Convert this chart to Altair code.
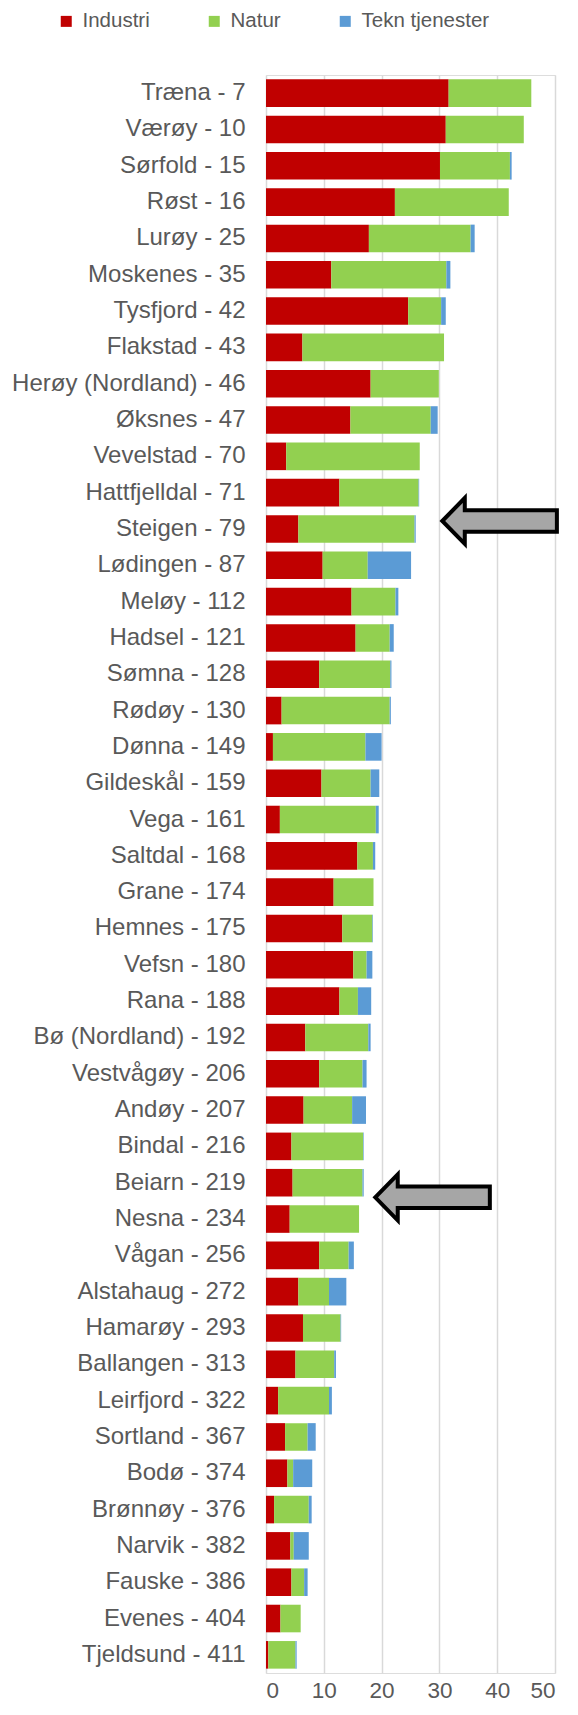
import altair as alt
import pandas as pd

kommuner = [
    "Træna - 7", "Værøy - 10", "Sørfold - 15", "Røst - 16", "Lurøy - 25",
    "Moskenes - 35", "Tysfjord - 42", "Flakstad - 43", "Herøy (Nordland) - 46",
    "Øksnes - 47", "Vevelstad - 70", "Hattfjelldal - 71", "Steigen - 79",
    "Lødingen - 87", "Meløy - 112", "Hadsel - 121", "Sømna - 128", "Rødøy - 130",
    "Dønna - 149", "Gildeskål - 159", "Vega - 161", "Saltdal - 168", "Grane - 174",
    "Hemnes - 175", "Vefsn - 180", "Rana - 188", "Bø (Nordland) - 192",
    "Vestvågøy - 206", "Andøy - 207", "Bindal - 216", "Beiarn - 219", "Nesna - 234",
    "Vågan - 256", "Alstahaug - 272", "Hamarøy - 293", "Ballangen - 313",
    "Leirfjord - 322", "Sortland - 367", "Bodø - 374", "Brønnøy - 376",
    "Narvik - 382", "Fauske - 386", "Evenes - 404", "Tjeldsund - 411",
]
industri = [31.6, 31.1, 30.1, 22.3, 17.8, 11.3, 24.6, 6.3, 18.1, 14.6, 3.5, 12.7,
            5.6, 9.8, 14.8, 15.5, 9.2, 2.7, 1.2, 9.6, 2.4, 15.8, 11.7, 13.2, 15.1,
            12.7, 6.8, 9.2, 6.5, 4.4, 4.6, 4.1, 9.2, 5.6, 6.4, 5.1, 2.1, 3.3, 3.7,
            1.4, 4.2, 4.4, 2.5, 0.4]
natur = [14.3, 13.5, 12.1, 19.7, 17.6, 19.9, 5.7, 24.5, 11.8, 13.9, 23.1, 13.7,
         20.1, 7.8, 7.6, 5.9, 12.3, 18.7, 16.0, 8.5, 16.6, 2.7, 6.9, 5.2, 2.3,
         3.2, 10.9, 7.5, 8.4, 12.4, 12.1, 12.0, 5.1, 5.3, 6.5, 6.7, 8.8, 3.9, 1.0,
         6.0, 0.6, 2.2, 3.5, 4.7]
tekn = [0.0, 0.0, 0.3, 0.0, 0.7, 0.7, 0.8, 0.0, 0.0, 1.2, 0.0, 0.1, 0.2, 7.5,
        0.5, 0.7, 0.2, 0.2, 2.8, 1.5, 0.5, 0.4, 0.0, 0.1, 1.0, 2.3, 0.4, 0.7, 2.4,
        0.1, 0.2, 0.0, 0.9, 3.0, 0.1, 0.3, 0.5, 1.4, 3.3, 0.5, 2.6, 0.6, 0.0, 0.2]
serier = ["Industri", "Natur", "Tekn tjenester"]
farger = ["#C00000", "#92D050", "#5B9BD5"]
x_ticks = [0, 10, 20, 30, 40, 50]

pil_kommuner = ["Steigen - 79", "Beiarn - 219"]
pil_x = [30.5, 18.9]

rows = []
for i, k in enumerate(kommuner):
    for j, (s, vals) in enumerate(zip(serier, [industri, natur, tekn])):
        rows.append({"kommune": k, "serie": s, "verdi": vals[i], "rekkefolge": j})
df = pd.DataFrame(rows)

GREY = "#595959"
FONT = "Liberation Sans"

y_scale = alt.Scale(domain=kommuner, paddingInner=0.24, paddingOuter=0.12)
x_scale = alt.Scale(domain=[0, 50], nice=False)

bars = alt.Chart(df).mark_bar().encode(
    y=alt.Y("kommune:N", scale=y_scale, sort=None,
            axis=alt.Axis(title=None, ticks=False, domain=False, labelFontSize=24,
                          labelPadding=21, labelColor=GREY, labelLimit=400,
                          labelFont=FONT)),
    x=alt.X("verdi:Q", stack="zero", scale=x_scale,
            axis=alt.Axis(values=x_ticks, title=None, ticks=False, domain=False,
                          grid=True, gridColor="#D9D9D9", gridWidth=1.5,
                          labelFontSize=22.5, labelColor=GREY, labelPadding=6,
                          labelFont=FONT)),
    color=alt.Color("serie:N", scale=alt.Scale(domain=serier, range=farger),
                    legend=alt.Legend(orient="none", legendX=-210, legendY=-64,
                                      direction="horizontal", title=None,
                                      symbolType="square", symbolSize=121,
                                      symbolStrokeWidth=0, labelFontSize=20.5,
                                      labelColor=GREY, labelFont=FONT,
                                      columnPadding=54, labelOffset=6)),
    order=alt.Order("rekkefolge:Q"),
)

arrow_path = ("M0,0 L0.375,-0.383 L0.375,-0.18 L1.91,-0.18 L1.91,0.18 "
              "L0.375,0.18 L0.375,0.383 Z")

def arrow(idx, dy):
    d = pd.DataFrame({"kommune": [pil_kommuner[idx]], "x": [pil_x[idx]]})
    return alt.Chart(d).mark_point(
        shape=arrow_path, size=14400, filled=True, fill="#A6A6A6",
        stroke="black", strokeWidth=4, opacity=1, strokeOpacity=1, yOffset=dy,
    ).encode(
        y=alt.Y("kommune:N", scale=y_scale, sort=None),
        x=alt.X("x:Q", scale=x_scale),
    )

chart = alt.layer(bars, arrow(0, -8), arrow(1, 14.6)).properties(
    width=289, height=1598,
    padding={"left": 258, "top": 67, "right": 14, "bottom": 30},
    autosize=alt.AutoSizeParams(type="none"),
).configure_view(stroke=None).configure(font=FONT)

chart.save("out.html", embed_options={"renderer": "svg", "actions": False})
